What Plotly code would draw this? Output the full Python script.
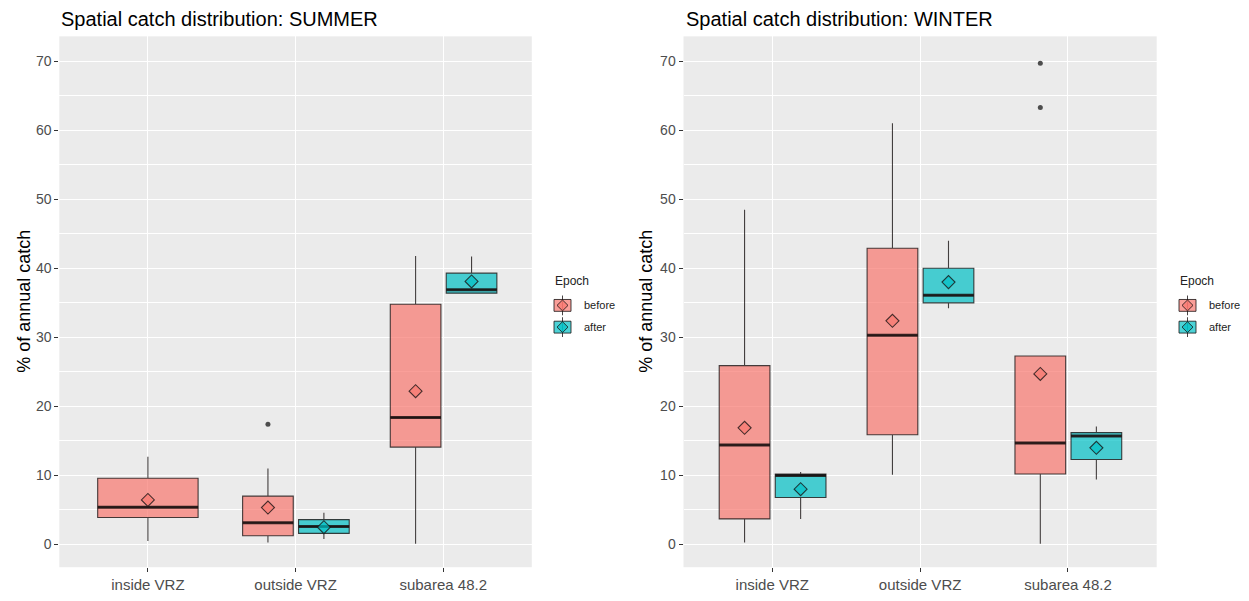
import plotly.graph_objects as go

categories = ["inside VRZ", "outside VRZ", "subarea 48.2"]
epochs = ["before", "after"]
y_ticks = [0, 10, 20, 30, 40, 50, 60, 70]

# SUMMER
summer_before_lo = [0.5, 0.3, 0.1]
summer_before_q1 = [3.9, 1.25, 14.1]
summer_before_med = [5.4, 3.15, 18.4]
summer_before_q3 = [9.6, 7.0, 34.8]
summer_before_hi = [12.7, 11.0, 41.8]
summer_before_mean = [6.45, 5.35, 22.2]
summer_before_out = [[], [17.4], []]

summer_after_lo = [None, 0.8, 36.4]
summer_after_q1 = [None, 1.6, 36.4]
summer_after_med = [None, 2.6, 36.9]
summer_after_q3 = [None, 3.6, 39.3]
summer_after_hi = [None, 4.6, 41.7]
summer_after_mean = [None, 2.5, 38.1]
summer_after_out = [[], [], []]

# WINTER
winter_before_lo = [0.3, 10.1, 0.1]
winter_before_q1 = [3.7, 15.9, 10.2]
winter_before_med = [14.4, 30.3, 14.7]
winter_before_q3 = [25.9, 42.9, 27.3]
winter_before_hi = [48.5, 61.0, 27.3]
winter_before_mean = [16.9, 32.4, 24.7]
winter_before_out = [[], [], [63.3, 69.7]]

winter_after_lo = [3.7, 34.2, 9.4]
winter_after_q1 = [6.8, 35.0, 12.3]
winter_after_med = [10.0, 36.1, 15.7]
winter_after_q3 = [10.2, 40.0, 16.2]
winter_after_hi = [10.5, 44.0, 17.1]
winter_after_mean = [8.0, 38.0, 14.0]
winter_after_out = [[], [], []]

FILL = {"before": "rgba(248,118,109,0.7)", "after": "rgba(0,191,196,0.7)"}
EDGE = "rgba(25,20,20,0.8)"
MED = "rgba(25,15,15,0.85)"
FONT = "Liberation Sans, Arial"

seasons = {
    "SUMMER": {
        "before": (summer_before_lo, summer_before_q1, summer_before_med, summer_before_q3,
                   summer_before_hi, summer_before_mean, summer_before_out),
        "after": (summer_after_lo, summer_after_q1, summer_after_med, summer_after_q3,
                  summer_after_hi, summer_after_mean, summer_after_out),
    },
    "WINTER": {
        "before": (winter_before_lo, winter_before_q1, winter_before_med, winter_before_q3,
                   winter_before_hi, winter_before_mean, winter_before_out),
        "after": (winter_after_lo, winter_after_q1, winter_after_med, winter_after_q3,
                  winter_after_hi, winter_after_mean, winter_after_out),
    },
}

fig = go.Figure()
panel_axes = [("x", "y"), ("x2", "y2")]

for (season, data), (xa, ya) in zip(seasons.items(), panel_axes):
    for ci, cat in enumerate(categories):
        both = all(data[e][1][ci] is not None for e in epochs)
        for e in epochs:
            lo, q1, med, q3, hi, mean, out = data[e]
            if q1[ci] is None:
                continue
            if both:
                w = 0.343
                pos = ci + 1 + (-0.187 if e == "before" else 0.192)
            else:
                w = 0.68
                pos = ci + 1
            fig.add_trace(go.Box(
                x=[pos], q1=[q1[ci]], median=[med[ci]], q3=[q3[ci]],
                lowerfence=[lo[ci]], upperfence=[hi[ci]],
                width=w, whiskerwidth=0, boxpoints=False,
                fillcolor=FILL[e], line=dict(color=EDGE, width=1.1),
                name=e, showlegend=False,
                xaxis=xa, yaxis=ya, hoverinfo="skip",
            ))
            fig.add_trace(go.Scatter(
                x=[pos - w / 2, pos + w / 2], y=[med[ci], med[ci]], mode="lines",
                line=dict(color=MED, width=3), showlegend=False,
                xaxis=xa, yaxis=ya, hoverinfo="skip",
            ))
            if out[ci]:
                fig.add_trace(go.Scatter(
                    x=[pos] * len(out[ci]), y=out[ci], mode="markers",
                    marker=dict(color="#4d4d4d", size=5), showlegend=False,
                    xaxis=xa, yaxis=ya, hoverinfo="skip",
                ))
            fig.add_trace(go.Scatter(
                x=[pos], y=[mean[ci]], mode="markers",
                marker=dict(symbol="diamond", size=10, color=FILL[e],
                            line=dict(color=EDGE, width=1.1)),
                showlegend=False, xaxis=xa, yaxis=ya, hoverinfo="skip",
            ))

# page body has an 8px margin; figure coordinates = screen - 8
OFF = 8
W, H = 1249 - 2 * OFF, 601 - 2 * OFF


def px(x):
    return (x - OFF) / W


def py(y):
    return 1 - (y - OFF) / H


ydom = [py(574), py(36.7)]
xdoms = [[px(59.3), px(531.8)], [px(683.5), px(1156.7)]]

axis_common = dict(
    showline=False, zeroline=False, ticks="outside", ticklen=4, tickcolor="#333333",
    gridcolor="white", gridwidth=1.3,
)

for i in range(2):
    sfx = "" if i == 0 else "2"
    fig.update_layout(**{
        "xaxis" + sfx: dict(domain=xdoms[i], range=[0.4, 3.6], tickvals=[1, 2, 3],
                            ticktext=categories, anchor="y" + sfx,
                            tickfont=dict(family=FONT, size=15, color="#4d4d4d"),
                            **axis_common),
        "yaxis" + sfx: dict(domain=ydom, range=[-3.3, 73.6], tickvals=y_ticks,
                            anchor="x" + sfx,
                            tickfont=dict(family=FONT, size=14, color="#4d4d4d"),
                            minor=dict(tickvals=[5, 15, 25, 35, 45, 55, 65], showgrid=True,
                                       gridcolor="white", gridwidth=0.6, ticks=""),
                            **axis_common),
    })

annotations = []
shapes = []
titles = ["Spatial catch distribution: SUMMER", "Spatial catch distribution: WINTER"]
for i, t in enumerate(titles):
    annotations.append(dict(
        text=t, xref="paper", yref="paper", x=xdoms[i][0], y=py(19),
        xanchor="left", yanchor="middle", showarrow=False,
        font=dict(family=FONT, size=20, color="black"),
    ))
for xp in [24, 646]:
    annotations.append(dict(
        text="% of annual catch", xref="paper", yref="paper", x=px(xp),
        y=(ydom[0] + ydom[1]) / 2, xanchor="center", yanchor="middle",
        textangle=-90, showarrow=False,
        font=dict(family=FONT, size=18, color="black"),
    ))

# manual ggplot-style legends ("Epoch")
for lx in [553, 1178]:
    annotations.append(dict(
        text="Epoch", xref="paper", yref="paper", x=px(lx), y=py(284),
        xanchor="left", yanchor="middle", showarrow=False,
        font=dict(family=FONT, size=12, color="#222"),
    ))
    for k, e in enumerate(epochs):
        cy = 309 + 22 * k
        kx0, kx1 = lx + 1, lx + 18
        cx = (kx0 + kx1) / 2
        shapes.append(dict(type="line", xref="paper", yref="paper",
                           x0=px(cx), x1=px(cx), y0=py(cy - 10), y1=py(cy + 10),
                           line=dict(color=EDGE, width=1)))
        shapes.append(dict(type="rect", xref="paper", yref="paper",
                           x0=px(kx0), x1=px(kx1), y0=py(cy - 6), y1=py(cy + 6),
                           fillcolor=FILL[e], line=dict(color=EDGE, width=1)))
        d = 5.5
        path = "M {} {} L {} {} L {} {} L {} {} Z".format(
            px(cx), py(cy - d), px(cx + d), py(cy), px(cx), py(cy + d), px(cx - d), py(cy))
        shapes.append(dict(type="path", xref="paper", yref="paper", path=path,
                           fillcolor=FILL[e], line=dict(color=EDGE, width=1)))
        annotations.append(dict(
            text=e, xref="paper", yref="paper", x=px(lx + 29), y=py(cy),
            xanchor="left", yanchor="middle", showarrow=False,
            font=dict(family=FONT, size=11, color="#222"),
        ))

fig.update_layout(
    width=W, height=H, margin=dict(l=0, r=0, t=0, b=0),
    paper_bgcolor="white", plot_bgcolor="#EBEBEB",
    boxmode="overlay", annotations=annotations, shapes=shapes, showlegend=False,
)

fig.write_html("out.html")
